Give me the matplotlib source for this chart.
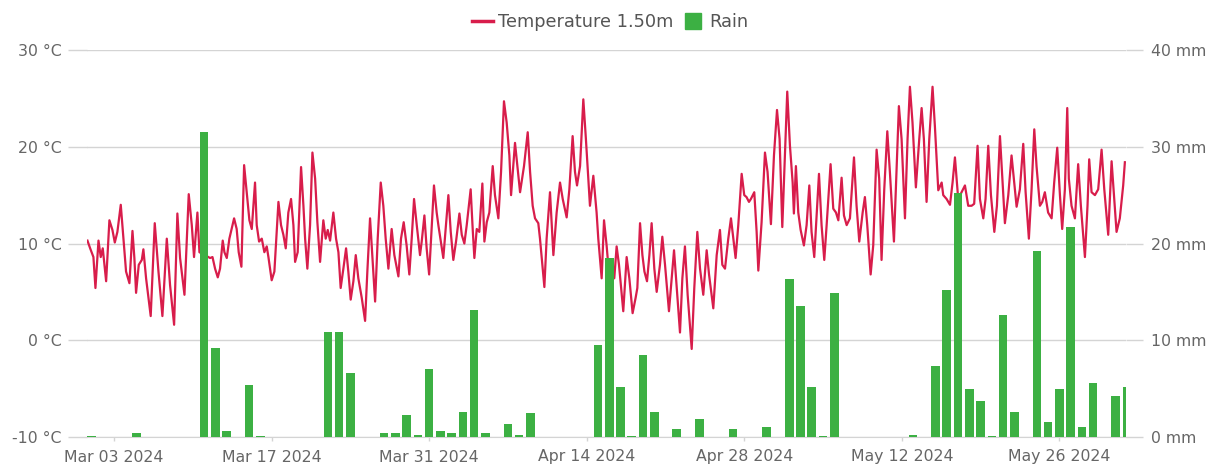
import matplotlib
matplotlib.use("Agg")
import matplotlib.pyplot as plt
from matplotlib.lines import Line2D

# ---- data (day 0 = 1 Mar 2024) ----
rain_mm = [0.1, 0, 0, 0, 0.4, 0, 0, 0, 0, 0,
           31.5, 9.2, 0.65, 0, 5.4, 0.1, 0, 0, 0, 0,
           0, 10.9, 10.9, 6.6, 0, 0, 0.4, 0.4, 2.3, 0.25,
           7.0, 0.65, 0.4, 2.6, 13.1, 0.4, 0, 1.3, 0.25, 2.5,
           0, 0, 0, 0, 0, 9.5, 18.5, 5.2, 0.07, 8.5,
           2.6, 0, 0.85, 0, 1.85, 0, 0, 0.85, 0, 0,
           1.05, 0, 16.3, 13.5, 5.2, 0.07, 14.9, 0, 0, 0,
           0, 0, 0, 0.25, 0, 7.3, 15.2, 25.2, 5.0, 3.7,
           0.07, 12.6, 2.6, 0, 19.2, 1.6, 5.0, 21.7, 1.05, 5.6,
           0, 4.25, 5.2]
rain_day = list(range(len(rain_mm)))

temp_day = [
    -0.36, -0.12, 0.17, 0.35, 0.62, 0.82, 1.0, 1.30, 1.59, 1.86, 2.07, 2.30, 2.60, 2.84, 3.07, 3.37,
    3.64, 3.81, 3.96, 4.20, 4.47, 4.61, 4.85, 5.26, 5.62, 5.95, 6.30, 6.69, 6.98, 7.34, 7.63, 7.87,
    8.26, 8.64, 8.91, 9.11, 9.41, 9.59, 10.54, 10.75, 10.98, 11.22, 11.42, 11.66, 11.81, 12.02, 12.25,
    12.67, 12.90, 13.08, 13.32, 13.56, 13.79, 14.03, 14.24, 14.53,
    14.68, 14.89, 15.13, 15.36, 15.57, 15.72, 16.01, 16.25, 16.61, 16.84, 17.05, 17.26, 17.49, 17.73,
    17.94, 18.09, 18.32, 18.62, 18.83, 18.98, 19.18, 19.42, 19.63, 19.87, 20.07, 20.31, 20.6, 20.81,
    20.99, 21.2, 21.49, 21.73, 21.94, 22.14, 22.38, 22.62, 22.82, 23.03, 23.27, 23.48, 23.71, 24.01,
    24.31, 24.51, 24.75, 24.96, 25.2, 25.43, 25.70, 25.93, 26.14, 26.38, 26.67, 26.91, 27.27, 27.5,
    27.74, 28.0, 28.24, 28.45, 28.66, 28.9, 29.19, 29.34, 29.58, 29.78, 30.0,
    30.43, 30.67, 30.82, 31.26, 31.71, 31.92, 32.15, 32.39, 32.69, 32.9, 33.13, 33.34, 33.69, 33.87,
    34.02, 34.23, 34.46, 34.73, 34.91, 35.12, 35.35, 35.65, 35.85, 36.15, 36.39, 36.65, 36.89, 37.13,
    37.28, 37.63, 37.84, 38.08, 38.43, 38.76, 38.97, 39.2, 39.41, 39.7, 39.85, 40.24, 40.44, 40.74,
    41.04, 41.33, 41.63, 41.87, 42.22, 42.46, 42.75, 42.96, 43.14, 43.41, 43.7, 43.93, 44.29, 44.59,
    44.88, 45.03, 45.33, 45.54, 45.77, 45.9,
    46.45, 46.66, 46.87, 47.25, 47.55, 47.79, 48.08, 48.35, 48.5, 48.74, 48.95, 49.13, 49.36, 49.57,
    49.77, 50.01, 50.22, 50.51, 50.72, 50.96, 51.31, 51.55, 51.76, 52.0, 52.29, 52.5, 52.73, 52.97,
    53.33, 53.56, 53.83, 54.07, 54.36, 54.66, 54.87, 55.25, 55.55, 55.84, 56.05, 56.29, 56.58, 56.82,
    57.03, 57.23, 57.47, 57.77, 58.0, 58.2, 58.42, 58.59, 58.89, 59.1, 59.25, 59.54, 59.84, 60.07,
    60.37, 60.64, 60.91, 61.14, 61.38,
    61.82, 62.06, 62.3, 62.41, 62.59, 62.8, 63.01, 63.3, 63.54, 63.78, 63.98, 64.22, 64.43, 64.64,
    64.87, 65.11, 65.32, 65.67, 65.91, 66.15, 66.36, 66.65, 66.86, 67.1, 67.39, 67.75, 67.98, 68.22,
    68.52, 68.72, 68.93, 69.23, 69.46, 69.76, 69.99, 70.2, 70.44, 70.71, 70.94, 71.3, 71.53, 71.74,
    71.98, 72.28, 72.51, 72.72, 72.95, 73.25, 73.55, 73.76, 73.96, 74.2, 74.44, 74.73, 74.94, 75.24,
    75.54, 75.68, 75.98, 76.28, 76.51, 76.72,
    77.01, 77.31, 77.61, 77.9, 78.2, 78.43, 78.73, 78.94, 79.24, 79.44, 79.68, 79.92, 80.22, 80.45,
    80.72, 80.87, 81.16, 81.46, 81.75, 81.99, 82.2, 82.49, 82.79, 83.0, 83.29, 83.53, 83.77, 83.97,
    84.27, 84.48, 84.71, 85.0, 85.31, 85.54, 85.81, 86.05, 86.25, 86.49, 86.7, 86.84, 87.08, 87.38,
    87.67, 87.91, 88.27, 88.5, 88.65, 88.86, 89.16, 89.45, 89.75, 89.99, 90.34, 90.64, 90.87, 91.08,
    91.37, 91.67, 91.82]

temp_c = [
    10.3, 9.5, 8.6, 5.4, 10.3, 8.6, 9.5, 6.1, 12.4, 11.4, 10.1, 11.2, 14.0, 10.5, 7.1, 5.9,
    11.3, 8.5, 4.9, 7.8, 8.3, 9.4, 6.4, 2.5, 12.1, 7.1, 2.5, 10.5, 5.7, 1.6, 13.1, 8.5,
    4.7, 15.1, 11.9, 8.6, 13.2, 9.1, 8.5, 8.6, 7.4, 6.5, 7.4, 10.3, 9.1, 8.5, 10.5,
    12.6, 11.5, 9.1, 7.6, 18.1, 15.3, 12.4, 11.5, 16.3,
    11.9, 10.2, 10.5, 9.1, 9.7, 8.6, 6.2, 7.1, 14.3, 11.9, 10.9, 9.5, 13.2, 14.6,
    11.9, 8.1, 9.1, 17.9, 13.9, 10.5, 7.4, 11.9, 19.4, 16.7, 12.2, 8.1, 12.4, 10.5,
    11.4, 10.3, 13.2, 10.5, 9.1, 5.4, 7.4, 9.5, 7.1, 4.2, 6.1, 8.8, 6.4, 4.4,
    2.0, 7.1, 12.6, 8.5, 4.0, 10.5, 16.3, 13.9, 10.5, 7.4, 11.5, 8.8, 6.6, 10.5,
    12.2, 9.8, 6.8, 10.5, 14.6, 11.9, 8.8, 10.2, 12.9, 9.5, 6.8,
    16.0, 13.2, 11.9, 8.5, 15.0, 11.2, 8.3, 10.2, 13.1, 10.9, 10.0, 11.9, 15.6, 11.5,
    8.5, 11.5, 11.2, 16.2, 10.2, 12.2, 13.2, 18.0, 15.0, 12.6, 17.4, 24.7, 22.5, 19.1,
    15.0, 20.4, 18.0, 15.3, 18.0, 21.5, 17.4, 13.9, 12.6, 12.1, 10.5, 5.5, 10.5, 15.3,
    8.8, 13.2, 16.3, 14.6, 12.7, 15.6, 21.1, 17.4, 16.0, 18.0, 24.9, 20.8, 13.9, 17.0,
    13.2, 10.5, 6.4, 12.4, 9.8, 8.0,
    6.4, 9.7, 7.8, 3.0, 8.6, 6.4, 2.8, 4.4, 5.4, 12.1, 8.8, 7.1, 6.1, 8.8,
    12.1, 7.4, 5.0, 7.8, 10.7, 7.8, 3.0, 6.4, 9.3, 5.4, 0.8, 6.4, 9.7, 4.7,
    -0.9, 5.4, 11.2, 7.4, 4.7, 9.3, 6.8, 3.3, 8.8, 11.4, 7.8, 7.4, 10.5, 12.6,
    10.5, 8.5, 11.9, 17.2, 15.0, 14.8, 14.3, 14.6, 15.3, 11.2, 7.2, 12.2, 19.4, 17.4,
    12.0, 19.1, 23.8, 20.8, 11.7,
    25.7, 20.1, 16.3, 13.1, 18.0, 13.2, 11.4, 9.8, 11.9, 16.0, 11.2, 8.6, 12.9, 17.2,
    11.9, 8.3, 11.9, 18.2, 13.6, 13.2, 12.4, 16.8, 12.9, 11.9, 12.6, 18.9, 13.9, 10.2,
    13.2, 14.8, 11.9, 6.8, 9.8, 19.7, 16.7, 8.3, 15.6, 21.6, 17.4, 10.2, 17.4, 24.2,
    20.8, 12.6, 20.8, 26.2, 22.5, 15.8, 20.8, 24.0, 20.8, 14.3, 20.8, 26.2, 22.1, 15.5,
    16.3, 15.0, 14.6, 14.0, 16.3, 18.9,
    14.6, 15.3, 16.0, 13.9, 13.9, 14.1, 20.1, 14.6, 12.6, 14.6, 20.1, 15.0, 11.2, 13.9,
    21.1, 18.0, 12.1, 15.0, 19.1, 16.3, 13.8, 15.6, 20.3, 15.3, 10.5, 15.6, 21.8, 18.0,
    13.9, 14.3, 15.3, 13.2, 12.6, 16.3, 19.9, 15.0, 11.5, 15.6, 24.0, 16.7, 13.9, 12.6,
    18.2, 13.9, 8.6, 13.9, 18.7, 15.3, 15.0, 15.6, 19.7, 15.6, 10.9, 18.5, 14.6, 11.2,
    12.6, 16.0, 18.4]

tick_days = [2, 16, 30, 44, 58, 72, 86]
tick_labels = ["Mar 03 2024", "Mar 17 2024", "Mar 31 2024", "Apr 14 2024",
               "Apr 28 2024", "May 12 2024", "May 26 2024"]
temp_ticks = [-10, 0, 10, 20, 30]
rain_ticks = [0, 10, 20, 30, 40]

RED = "#d81d4b"
GREEN = "#3cb043"
GRID = "#d4d4d4"
TXT = "#666666"

plt.rcParams["font.family"] = ["DejaVu Sans"]

W, H = 1210, 468
fig = plt.figure(figsize=(W / 100, H / 100), dpi=100)
L, R, T, B = 87, 1126, 50, 437
ax1 = fig.add_axes([L / W, 1 - B / H, (R - L) / W, (B - T) / H])
ax2 = ax1.twinx()

ax1.plot(temp_day, temp_c, color=RED, lw=1.6, solid_joinstyle="round", zorder=3)
ax2.bar(rain_day, rain_mm, width=0.77, color=GREEN, zorder=3)

ax1.set_xlim(-0.4, 91.92)
ax1.set_ylim(-10, 30)
ax2.set_ylim(0, 40)

ax1.set_yticks(temp_ticks, [f"{v} °C" for v in temp_ticks])
ax2.set_yticks(rain_ticks, [f"{v} mm" for v in rain_ticks])
ax1.set_xticks(tick_days, tick_labels)

ax1.grid(axis="y", color=GRID, lw=1.0, zorder=0)
ax1.set_axisbelow(True)
for ax in (ax1, ax2):
    for s in ax.spines.values():
        s.set_visible(False)
ax1.spines["bottom"].set_visible(True)
ax1.spines["bottom"].set_color(GRID)

ax1.tick_params(axis="y", length=13.7, width=1.0, color=GRID, pad=4.3,
                labelcolor=TXT, labelsize=11.3)
ax2.tick_params(axis="y", length=12.2, width=1.0, color=GRID, pad=6.0,
                labelcolor=TXT, labelsize=11.3)
ax1.tick_params(axis="x", length=3, width=1.0, color=GRID, pad=6,
                labelcolor=TXT, labelsize=11.3)

handles = [Line2D([], [], color=RED, lw=2.5),
           Line2D([], [], color=GREEN, lw=0, marker="s", markersize=11)]
fig.legend(handles, ["Temperature 1.50m", "Rain"], loc="center",
           bbox_to_anchor=(610 / W, 1 - 22 / H), ncol=2, frameon=False,
           fontsize=12.8, labelcolor="#555555", handlelength=1.2,
           handletextpad=0.3, columnspacing=0.5)

fig.savefig("out.png", dpi=100)
